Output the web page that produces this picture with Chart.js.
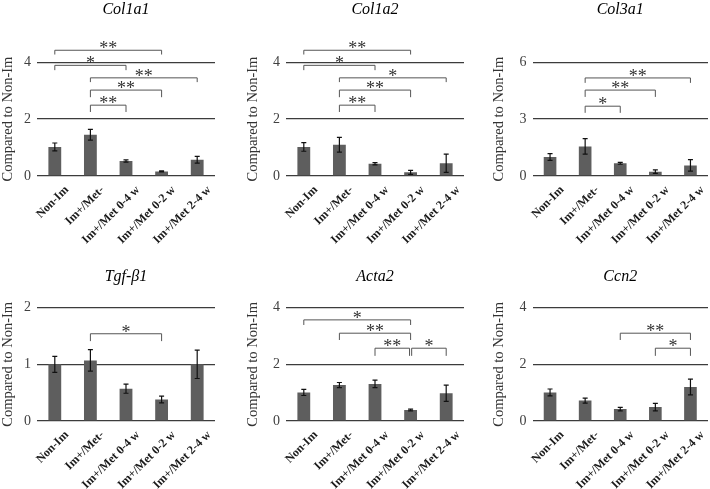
<!DOCTYPE html>
<html>
<head>
<meta charset="utf-8">
<script src="https://cdn.jsdelivr.net/npm/chart.js@4.4.1/dist/chart.umd.min.js"></script>
<style>
  html, body { margin: 0; padding: 0; background: #fff; }
  body { width: 710px; height: 489px; position: relative; overflow: hidden; }
  .panel { position: absolute; }
</style>
</head>
<body>
<script>
const categories = ['Non-Im', 'Im+/Met-', 'Im+/Met 0-4 w', 'Im+/Met 0-2 w', 'Im+/Met 2-4 w'];

// mean fold change vs Non-Im, and error (SE)
const col1a1Mean = [1.02, 1.45, 0.53, 0.16, 0.57];
const col1a1Err  = [0.14, 0.19, 0.04, 0.02, 0.12];
const col1a2Mean = [1.02, 1.10, 0.43, 0.13, 0.45];
const col1a2Err  = [0.15, 0.26, 0.04, 0.07, 0.32];
const col3a1Mean = [1.00, 1.56, 0.67, 0.23, 0.56];
const col3a1Err  = [0.18, 0.41, 0.05, 0.09, 0.30];
const tgfb1Mean  = [1.00, 1.07, 0.57, 0.38, 1.00];
const tgfb1Err   = [0.14, 0.19, 0.08, 0.06, 0.25];
const acta2Mean  = [1.01, 1.27, 1.31, 0.39, 0.98];
const acta2Err   = [0.11, 0.09, 0.13, 0.03, 0.29];
const ccn2Mean   = [1.01, 0.72, 0.42, 0.49, 1.20];
const ccn2Err    = [0.12, 0.09, 0.06, 0.13, 0.28];

// significance brackets: [from, to, line level, tick end level, label]
const col1a1Sig = [[0, 3, 4.42, 4.27, '**'], [0, 2, 3.89, 3.72, '*'], [1, 4, 3.45, 3.30, '**'], [1, 3, 3.02, 2.77, '**'], [1, 2, 2.49, 2.25, '**']];
const col1a2Sig = [[0, 3, 4.42, 4.27, '**'], [0, 2, 3.89, 3.72, '*'], [1, 4, 3.45, 3.30, '*'], [1, 3, 3.02, 2.77, '**'], [1, 2, 2.49, 2.25, '**']];
const col3a1Sig = [[1, 4, 5.17, 4.91, '**'], [1, 3, 4.53, 4.17, '**'], [1, 2, 3.68, 3.33, '*']];
const tgfb1Sig  = [[1, 3, 1.54, 1.41, '*']];
const acta2Sig  = [[0, 3, 3.57, 3.39, '*'], [1, 3, 3.10, 2.86, '**'], [2, 2.97, 2.57, 2.30, '**'], [3.03, 4, 2.57, 2.30, '*']];
const ccn2Sig   = [[2, 4, 3.10, 2.86, '**'], [3, 4, 2.57, 2.30, '*']];

const panels = [
    { title: 'Col1a1', mean: col1a1Mean, err: col1a1Err, sig: col1a1Sig, yMax: 4, step: 2, row: 0, col: 0 },
    { title: 'Col1a2', mean: col1a2Mean, err: col1a2Err, sig: col1a2Sig, yMax: 4, step: 2, row: 0, col: 1 },
    { title: 'Col3a1', mean: col3a1Mean, err: col3a1Err, sig: col3a1Sig, yMax: 6, step: 3, row: 0, col: 2 },
    { title: 'Tgf-β1', mean: tgfb1Mean, err: tgfb1Err, sig: tgfb1Sig, yMax: 2, step: 1, row: 1, col: 0 },
    { title: 'Acta2', mean: acta2Mean, err: acta2Err, sig: acta2Sig, yMax: 4, step: 2, row: 1, col: 1 },
    { title: 'Ccn2', mean: ccn2Mean, err: ccn2Err, sig: ccn2Sig, yMax: 4, step: 2, row: 1, col: 2 }
];

// panel boxes
const columns = [
    { left: 0, width: 237, padLeft: 0, axisW: 37, padRight: 22 },
    { left: 237, width: 238, padLeft: 8, axisW: 41, padRight: 11 },
    { left: 475, width: 235, padLeft: 16, axisW: 41.5, padRight: 2 }
];
const rows = [
    { top: 0, height: 245, titleTop: 0, titleBottom: 43 },
    { top: 245, height: 244, titleTop: 22, titleBottom: 21.5 }
];
const plotBottom = 176;
const serif = "'Liberation Serif', 'Times New Roman', serif";

const errorBars = {
    id: 'errorBars',
    afterDatasetsDraw(chart, args, opts) {
        const meta = chart.getDatasetMeta(0);
        const y = chart.scales.y;
        const data = chart.data.datasets[0].data;
        const ctx = chart.ctx;
        ctx.save();
        ctx.strokeStyle = '#111';
        ctx.lineWidth = 1.2;
        meta.data.forEach((bar, i) => {
            const top = y.getPixelForValue(data[i] + opts.errors[i]);
            const bot = y.getPixelForValue(data[i] - opts.errors[i]);
            ctx.beginPath();
            ctx.moveTo(bar.x, top); ctx.lineTo(bar.x, bot);
            ctx.moveTo(bar.x - 2.5, top); ctx.lineTo(bar.x + 2.5, top);
            ctx.moveTo(bar.x - 2.5, bot); ctx.lineTo(bar.x + 2.5, bot);
            ctx.stroke();
        });
        ctx.restore();
    }
};

const sigBrackets = {
    id: 'sigBrackets',
    afterDatasetsDraw(chart, args, opts) {
        const x = chart.scales.x, y = chart.scales.y, ctx = chart.ctx;
        ctx.save();
        ctx.strokeStyle = '#555';
        ctx.lineWidth = 1;
        ctx.fillStyle = '#333';
        ctx.font = '18px ' + serif;
        ctx.textAlign = 'center';
        ctx.textBaseline = 'alphabetic';
        opts.brackets.forEach(([a, b, level, end, label]) => {
            const x1 = x.getPixelForValue(a);
            const x2 = x.getPixelForValue(b);
            const yl = y.getPixelForValue(level);
            const ye = y.getPixelForValue(end);
            ctx.beginPath();
            ctx.moveTo(x1, ye); ctx.lineTo(x1, yl); ctx.lineTo(x2, yl); ctx.lineTo(x2, ye);
            ctx.stroke();
            ctx.fillText(label, (x1 + x2) / 2, yl + 4);
        });
        ctx.restore();
    }
};

panels.forEach(p => {
    const col = columns[p.col], row = rows[p.row];
    const box = document.createElement('div');
    box.className = 'panel';
    box.style.left = col.left + 'px';
    box.style.top = row.top + 'px';
    box.style.width = col.width + 'px';
    box.style.height = row.height + 'px';
    const canvas = document.createElement('canvas');
    box.appendChild(canvas);
    document.body.appendChild(box);

    new Chart(canvas, {
        type: 'bar',
        data: {
            labels: categories,
            datasets: [{
                data: p.mean,
                backgroundColor: '#5e5e5e',
                barPercentage: 0.36,
                categoryPercentage: 1
            }]
        },
        plugins: [errorBars, sigBrackets],
        options: {
            responsive: true,
            maintainAspectRatio: false,
            animation: false,
            layout: { padding: { left: col.padLeft, right: col.padRight, top: 0, bottom: 0 } },
            plugins: {
                legend: { display: false },
                tooltip: { enabled: false },
                title: {
                    display: true,
                    text: p.title,
                    fullSize: false,
                    color: '#000',
                    font: { family: serif, size: 16, style: 'italic', weight: 'normal', lineHeight: 1.2 },
                    padding: { top: row.titleTop, bottom: row.titleBottom }
                },
                errorBars: { errors: p.err },
                sigBrackets: { brackets: p.sig }
            },
            scales: {
                x: {
                    grid: { display: false },
                    border: { display: false },
                    ticks: {
                        autoSkip: false,
                        maxRotation: 45,
                        minRotation: 45,
                        labelOffset: 12,
                        padding: -1,
                        color: '#1a1a1a',
                        font: { family: serif, size: 12, weight: 'bold' }
                    },
                    afterFit(scale) { scale.height = row.height - plotBottom; }
                },
                y: {
                    min: 0,
                    max: p.yMax,
                    ticks: {
                        stepSize: p.step,
                        padding: 6,
                        color: '#404040',
                        font: { family: serif, size: 14 }
                    },
                    grid: { color: '#3c3c3c', lineWidth: 1.3, drawTicks: false },
                    border: { display: false },
                    title: {
                        display: true,
                        text: 'Compared to Non-Im',
                        color: '#333',
                        font: { family: serif, size: 14.5, lineHeight: 1.1 },
                        padding: { top: 0, bottom: 0 }
                    },
                    afterFit(scale) { scale.width = col.axisW; }
                }
            }
        }
    });
});
</script>
</body>
</html>
